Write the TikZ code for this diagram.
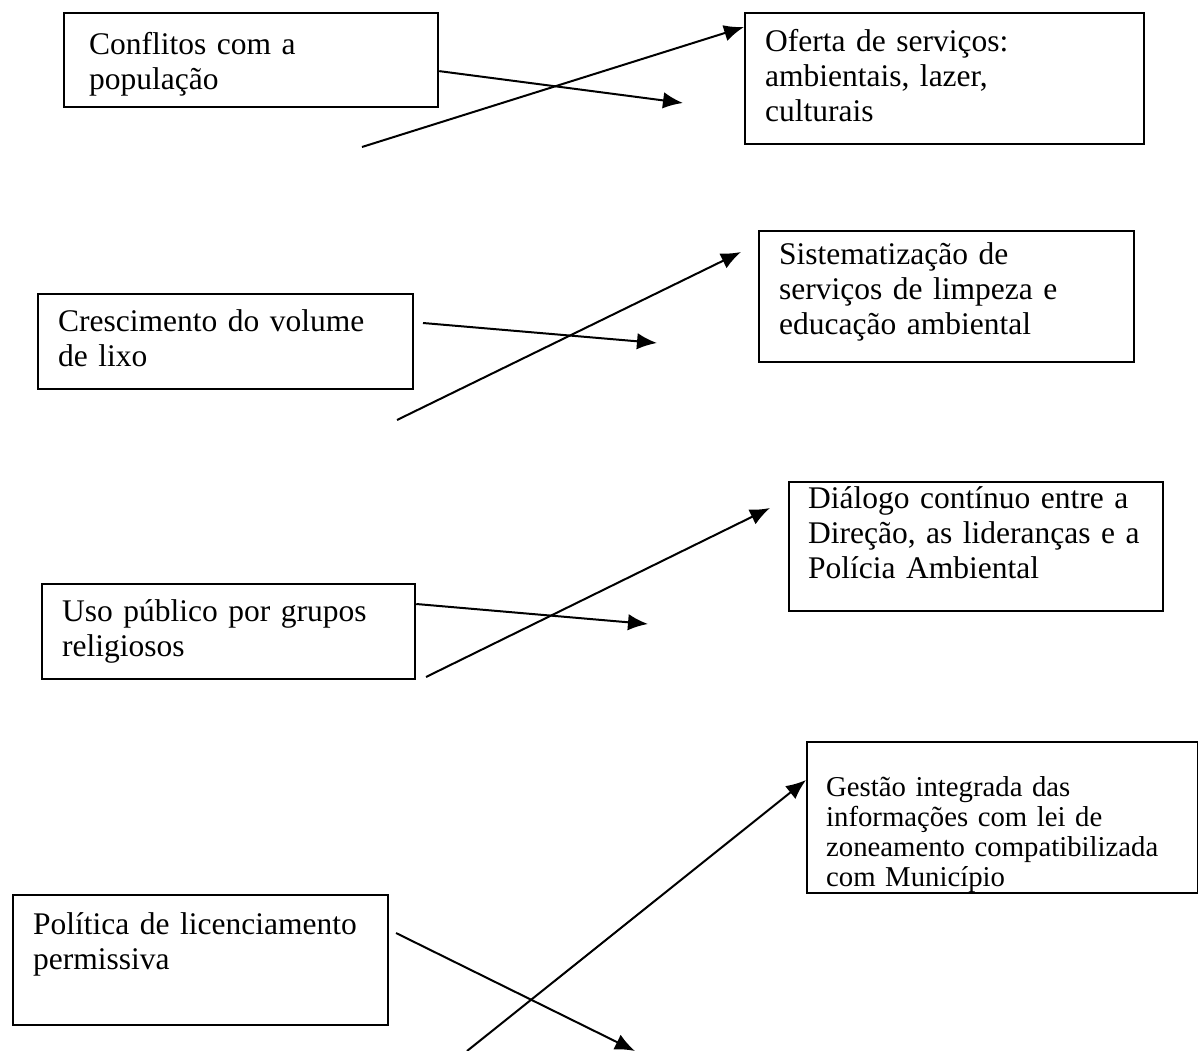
\documentclass[tikz,border=0pt]{standalone}
\usepackage{fontspec}
\setmainfont{Liberation Serif}
\usetikzlibrary{arrows.meta}

\tikzset{
  caixa/.style={draw, line width=0.9pt, anchor=north west, align=left,
    inner xsep=8pt, inner ysep=0pt,
    font=\fontsize{12.6}{14}\selectfont},
  seta/.style={line width=0.8pt, -{Latex[length=8pt,width=6.6pt]}}
}

\begin{document}
\begin{tikzpicture}[x=0.4pt, y=-0.4pt]
        \useasboundingbox (0,0) rectangle (1198,1051);
        % problemas (esquerda)
        \node[caixa, inner xsep=10pt, text width=129.6pt, text height=16.4pt, text depth=21.2pt] (conf) at (63,12) {Conflitos com a\\população};
        \node[caixa, text width=134pt, text height=14.8pt, text depth=23.2pt] (lixo) at (37,293) {Crescimento do volume\\de lixo};
        \node[caixa, text width=133.2pt, text height=14.8pt, text depth=23.2pt] (uso) at (41,583) {Uso público por grupos\\religiosos};
        \node[caixa, text width=134pt, text height=15.6pt, text depth=36.4pt] (pol) at (12,894) {Política de licenciamento\\permissiva};
        % respostas (direita)
        \node[caixa, text width=143.6pt, text height=15.2pt, text depth=37.2pt] (ofer) at (744,12) {Oferta de serviços:\\ambientais, lazer,\\culturais};
        \node[caixa, text width=134pt, text height=13.2pt, text depth=39.2pt] (sist) at (758,230) {Sistematização de\\serviços de limpeza e\\educação ambiental};
        \node[caixa, inner xsep=7.6pt, text width=134.4pt, text height=10.4pt, text depth=41.2pt] (dial) at (788,481) {Diálogo contínuo entre a\\Direção, as lideranças e a\\Polícia Ambiental};
        \node[caixa, inner xsep=7.6pt, text width=141.2pt, text height=21.6pt, text depth=38.8pt, font=\fontsize{11.5}{12}\selectfont] (gest) at (806,741) {Gestão integrada das\\informações com lei de\\zoneamento compatibilizada\\com Município};
        % pontas soltas
        \coordinate (c1) at (683,103);
        \coordinate (s1) at (362,147);
        \coordinate (s2) at (423,323);
        \coordinate (c2) at (657,343);
        \coordinate (b2) at (397,420);
        \coordinate (f2) at (741,252);
        \coordinate (c3) at (648,624);
        \coordinate (b3) at (426,677);
        \coordinate (f3) at (770,508);
        \coordinate (s4) at (396,933);
        \coordinate (c4) at (635,1051);
        \coordinate (b4) at (467,1051);
        % setas
        \draw[seta] ([yshift=-4.4pt]conf.east) -- (c1);
        \draw[seta] (s1) -- ([yshift=-6pt]ofer.north west);
        \draw[seta] (s2) -- (c2);
        \draw[seta] (b2) -- (f2);
        \draw[seta] ([yshift=-8.4pt]uso.north east) -- (c3);
        \draw[seta] (b3) -- (f3);
        \draw[seta] (s4) -- (c4);
        \draw[seta] (b4) -- ([yshift=-15.6pt]gest.north west);
    \end{tikzpicture}
\end{document}
